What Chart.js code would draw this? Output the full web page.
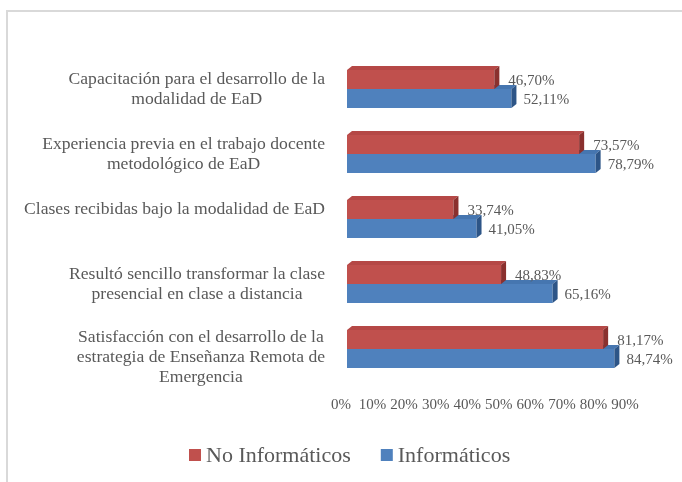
<!DOCTYPE html>
<html>
<head>
<meta charset="utf-8">
<script src="https://cdn.jsdelivr.net/npm/chart.js@4"></script>
<style>
  html, body { margin: 0; padding: 0; background: #ffffff; }
  #wrap { position: relative; width: 682px; height: 482px; overflow: hidden; }
  #frame { position: absolute; left: 6px; top: 10px; width: 700px; height: 500px;
           border-top: 2px solid #d9d9d9; border-left: 2px solid #d9d9d9; pointer-events: none; }
  canvas { position: absolute; left: 0; top: 0; }
</style>
</head>
<body>
<div id="wrap">
  <canvas id="c" width="682" height="482" style="width:682px;height:482px"></canvas>
  <div id="frame"></div>
</div>
<script>
const categories = [
  ["Capacitación para el desarrollo de la", "modalidad de EaD"],
  ["Experiencia previa en el trabajo docente", "metodológico de EaD"],
  ["Clases recibidas bajo la modalidad de EaD"],
  ["Resultó sencillo transformar la clase", "presencial en clase a distancia"],
  ["Satisfacción con el desarrollo de la", "estrategia de Enseñanza Remota de", "Emergencia"]
];
const seriesNames = ["No Informáticos", "Informáticos"];
const noInformaticos = [46.70, 73.57, 33.74, 48.83, 81.17];
const informaticos = [52.11, 78.79, 41.05, 65.16, 84.74];
const xTicks = [0, 10, 20, 30, 40, 50, 60, 70, 80, 90];

const FONT = '"Liberation Serif", "DejaVu Serif", serif';
const TEXT = '#595959';
const seriesColors = ['#C0504D', '#4F81BD'];
const faceColors = [
  { top: '#B54846', side: '#8A302E' },
  { top: '#4676B0', side: '#2D5587' }
];
const DX = 5, DY = -4;

function fmt(v) { return v.toFixed(2).replace('.', ',') + '%'; }

const threeD = {
  id: 'threeD',
  afterDatasetDraw(chart, args) {
    const ctx = chart.ctx;
    const fc = faceColors[args.index];
    ctx.save();
    args.meta.data.forEach(bar => {
      const p = bar.getProps(['x', 'y', 'base', 'height'], true);
      const top = p.y - p.height / 2, bottom = p.y + p.height / 2;
      ctx.fillStyle = fc.top;
      ctx.beginPath();
      ctx.moveTo(p.base, top); ctx.lineTo(p.x, top);
      ctx.lineTo(p.x + DX, top + DY); ctx.lineTo(p.base + DX, top + DY);
      ctx.closePath(); ctx.fill();
      ctx.fillStyle = fc.side;
      ctx.beginPath();
      ctx.moveTo(p.x, top); ctx.lineTo(p.x + DX, top + DY);
      ctx.lineTo(p.x + DX, bottom + DY); ctx.lineTo(p.x, bottom);
      ctx.closePath(); ctx.fill();
    });
    ctx.restore();
  },
  afterDatasetsDraw(chart) {
    const ctx = chart.ctx;
    ctx.save();
    // value labels
    ctx.font = '15px ' + FONT;
    ctx.fillStyle = TEXT;
    ctx.textAlign = 'left';
    ctx.textBaseline = 'middle';
    chart.data.datasets.forEach((ds, di) => {
      const meta = chart.getDatasetMeta(di);
      meta.data.forEach((bar, i) => {
        const off = di === 0 ? 14 : 12;
        ctx.fillText(fmt(ds.data[i]), bar.x + off, bar.y + 2);
      });
    });
    // category labels: block right-aligned, lines centered
    const y = chart.scales.y;
    ctx.font = '17.6px ' + FONT;
    ctx.textAlign = 'center';
    const R = 325, LH = 20;
    categories.forEach((lines, i) => {
      const cy = y.getPixelForTick(i);
      const w = Math.max(...lines.map(l => ctx.measureText(l).width));
      const cx = R - w / 2;
      const y0 = cy - LH / 2 - Math.max(0, lines.length - 2) * 2;
      lines.forEach((l, k) => ctx.fillText(l, cx, y0 + k * LH));
    });
    // legend
    ctx.font = '22px ' + FONT;
    ctx.textAlign = 'left';
    let lx = 189;
    const ly = 455;
    seriesNames.forEach((name, k) => {
      ctx.fillStyle = seriesColors[k];
      ctx.fillRect(lx, ly - 6, 12, 12);
      ctx.fillStyle = TEXT;
      ctx.fillText(name, lx + 17, ly + 1);
      lx += 17 + ctx.measureText(name).width + 30;
    });
    ctx.restore();
  }
};

new Chart(document.getElementById('c'), {
  type: 'bar',
  data: {
    labels: categories,
    datasets: [
      { label: seriesNames[0], data: noInformaticos, backgroundColor: seriesColors[0], borderWidth: 0 },
      { label: seriesNames[1], data: informaticos, backgroundColor: seriesColors[1], borderWidth: 0 }
    ]
  },
  options: {
    indexAxis: 'y',
    responsive: false,
    devicePixelRatio: 1,
    animation: false,
    layout: { padding: { top: 56.5, right: 51, bottom: 0, left: 0 } },
    datasets: { bar: { categoryPercentage: 0.585, barPercentage: 1.0 } },
    plugins: {
      tooltip: { enabled: false },
      title: { display: false },
      legend: { display: false }
    },
    scales: {
      x: {
        min: 0, max: 90,
        afterBuildTicks(s) { s.ticks = xTicks.map(v => ({ value: v })); },
        afterFit(s) { s.height = 100.5; },
        grid: { display: false },
        border: { display: false },
        ticks: {
          padding: 7,
          labelOffset: -6,
          font: { family: FONT, size: 15 },
          color: TEXT,
          maxRotation: 0,
          autoSkip: false,
          callback: v => v + '%'
        }
      },
      y: {
        afterFit(s) { s.width = 347; },
        grid: { display: false },
        border: { display: false },
        ticks: { display: false }
      }
    }
  },
  plugins: [threeD]
});
</script>
</body>
</html>
